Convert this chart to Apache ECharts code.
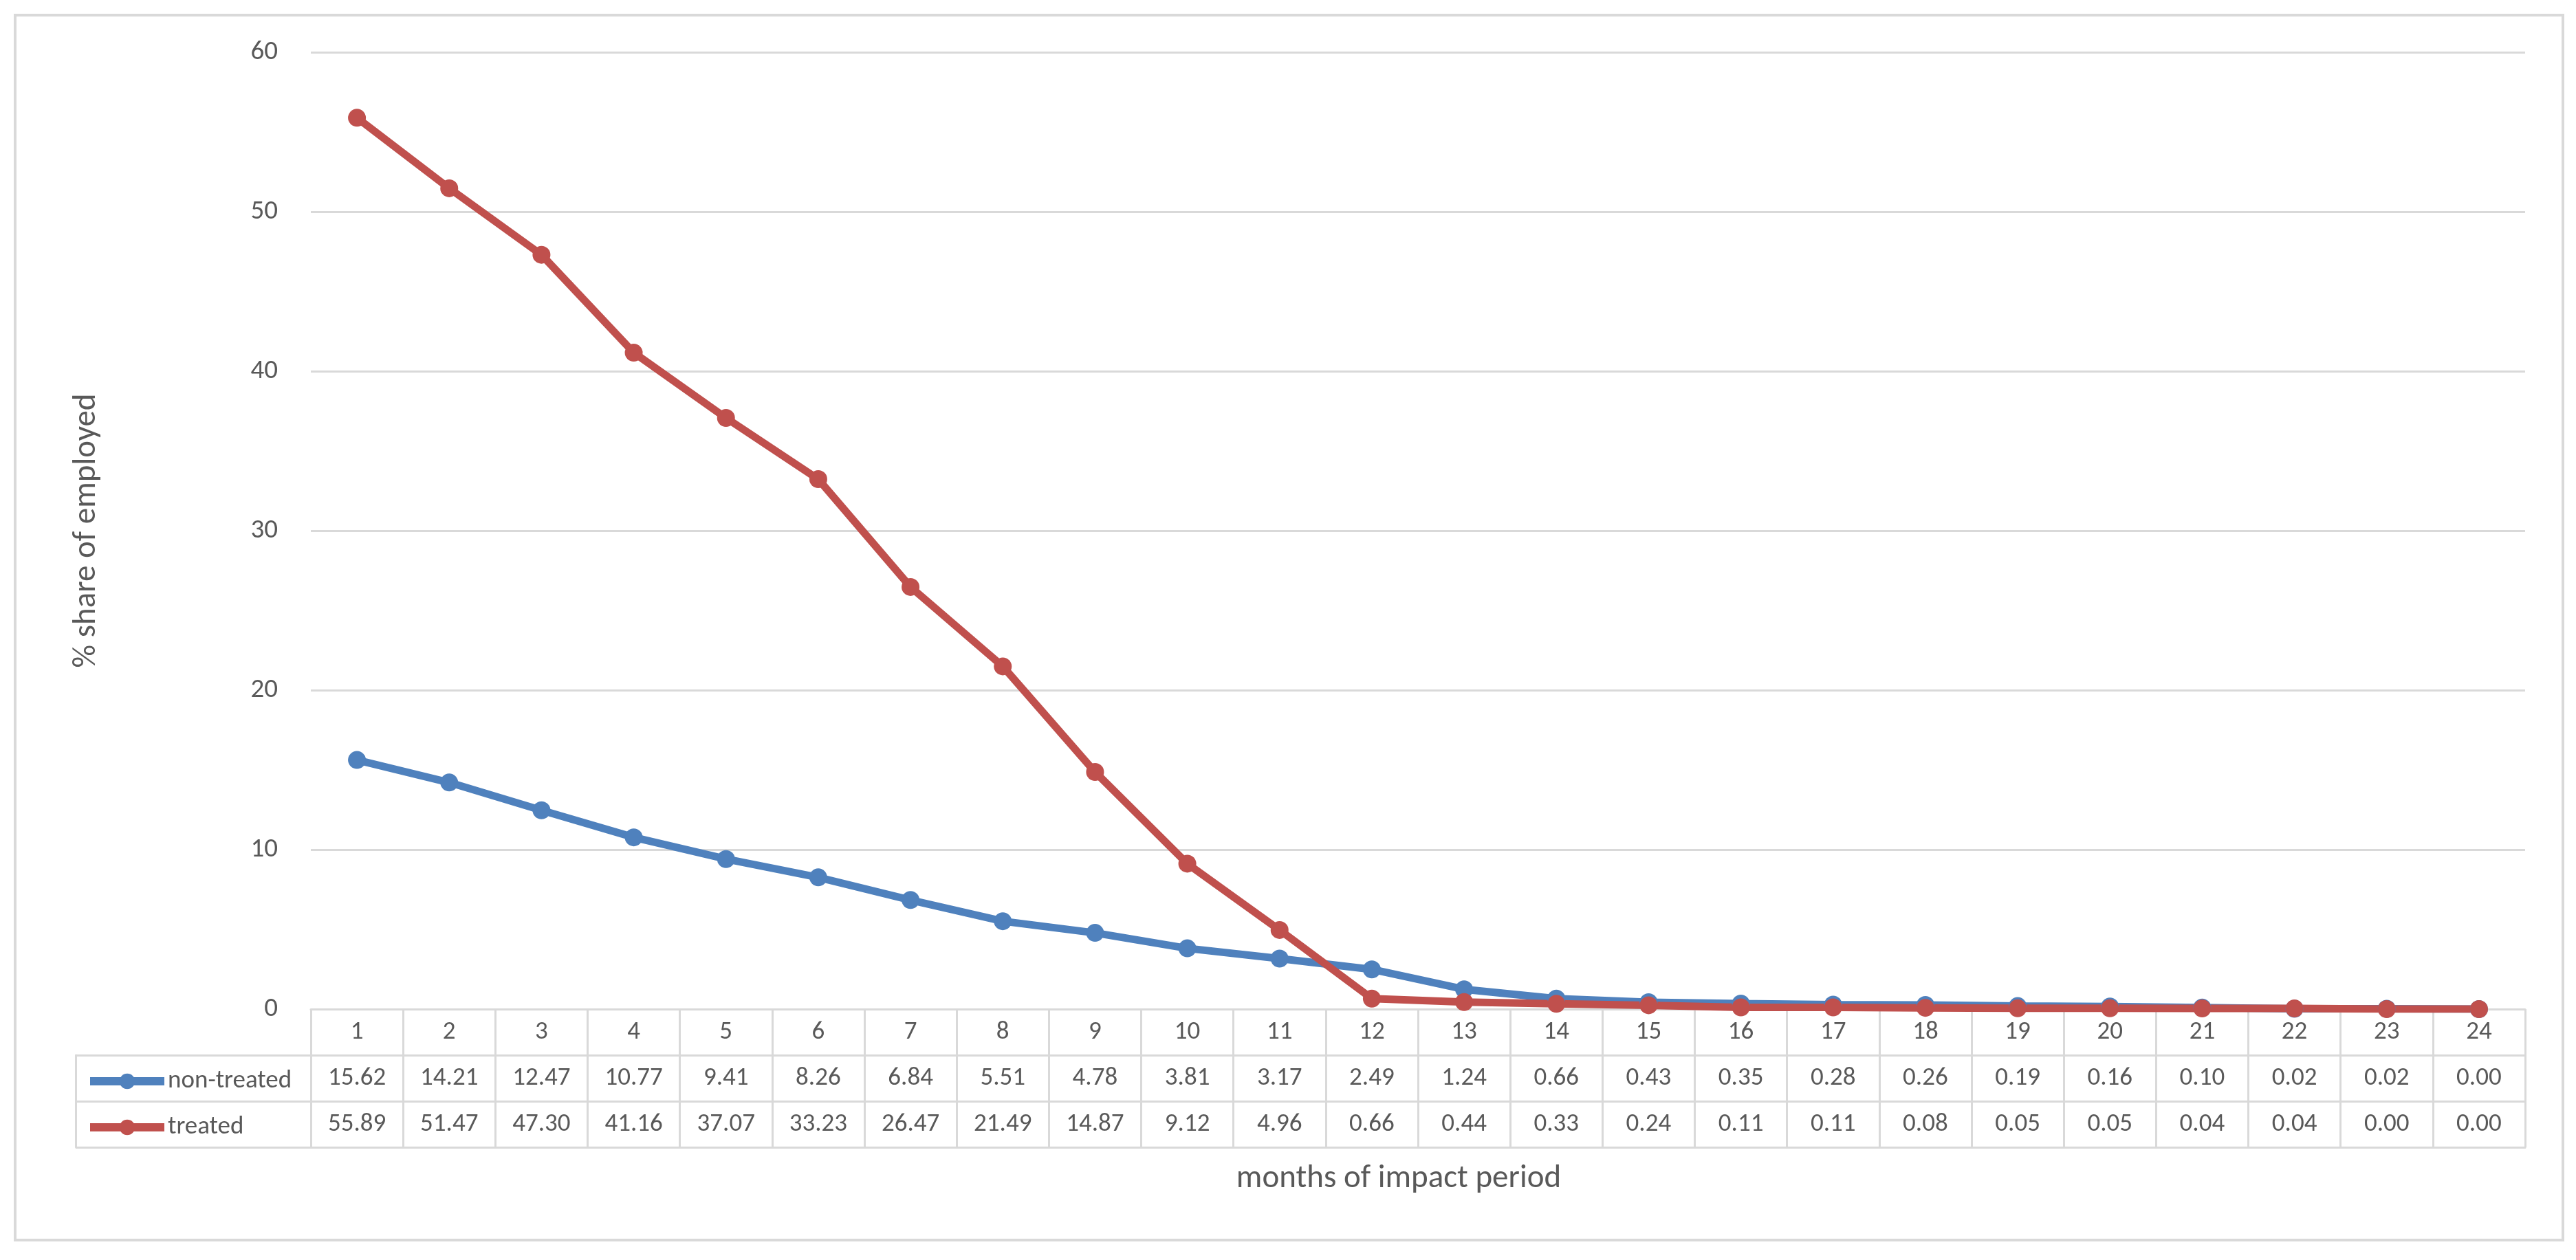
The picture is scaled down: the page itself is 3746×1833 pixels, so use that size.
<!DOCTYPE html>
<html>
<head>
<meta charset="utf-8">
<title>share of employed</title>
<script src="https://cdn.jsdelivr.net/npm/echarts@6/dist/echarts.min.js"></script>
<style>
    html, body { margin: 0; padding: 0; background: #fff; }
    #chart { width: 3746px; height: 1833px; }
</style>
</head>
<body>
<div id="chart"></div>
<script>
const months = ['1', '2', '3', '4', '5', '6', '7', '8', '9', '10', '11', '12',
    '13', '14', '15', '16', '17', '18', '19', '20', '21', '22', '23', '24'];
const nonTreated = [15.62, 14.21, 12.47, 10.77, 9.41, 8.26, 6.84, 5.51, 4.78, 3.81, 3.17, 2.49,
    1.24, 0.66, 0.43, 0.35, 0.28, 0.26, 0.19, 0.16, 0.10, 0.02, 0.02, 0.00];
const treated = [55.89, 51.47, 47.30, 41.16, 37.07, 33.23, 26.47, 21.49, 14.87, 9.12, 4.96, 0.66,
    0.44, 0.33, 0.24, 0.11, 0.11, 0.08, 0.05, 0.05, 0.04, 0.04, 0.00, 0.00];
const seriesNames = ['non-treated', 'treated'];
const yTicks = { min: 0, max: 60, interval: 10 };

const colors = ['#4F81BD', '#C0504D'];
const gray = '#d9d9d9';
const textGray = '#595959';
const font = 'Calibri, Carlito, Lato, "Open Sans", sans-serif';
const rowH = 67;

// one row of the data table = one extra category axis under the plot
function tableAxis(offset, labels, extra) {
    return {
        type: 'category',
        gridIndex: 0,
        position: 'bottom',
        offset: offset,
        data: months,
        boundaryGap: true,
        axisLine: { show: true, lineStyle: { color: gray, width: 3 } },
        axisTick: { show: true, length: rowH, inside: false, lineStyle: { color: gray, width: 3 } },
        axisLabel: {
            show: !!labels,
            interval: 0,
            margin: 34,
            verticalAlign: 'middle',
            fontSize: 37,
            fontFamily: font,
            color: textGray,
            formatter: (v, i) => labels ? labels[i] : v
        },
        splitLine: { show: false },
        ...extra
    };
}

let chartDom = document.getElementById('chart');
let myChart = echarts.init(chartDom);
let option;

option = {
    backgroundColor: '#fff',
    animation: false,
    color: colors,
    textStyle: { fontFamily: font },
    graphic: [{
        type: 'rect',
        shape: { x: 22, y: 22, width: 3705, height: 1782 },
        style: { fill: 'none', stroke: gray, lineWidth: 4 }
    }],
    legend: {
        data: seriesNames,
        orient: 'vertical',
        left: 120,
        top: 1548,
        itemWidth: 108,
        itemHeight: 28,
        itemGap: 27,
        lineStyle: { width: 12 },
        textStyle: { fontSize: 37, color: textGray, lineHeight: 40, fontFamily: font }
    },
    grid: [
        { left: 452, right: 74, top: 76, bottom: 365 },
        { left: 110, width: 342, top: 1535, height: 134 }
    ],
    xAxis: [
        tableAxis(0, months),
        tableAxis(rowH, nonTreated.map(v => v.toFixed(2))),
        tableAxis(rowH * 2, treated.map(v => v.toFixed(2))),
        tableAxis(rowH * 3, null, {
            axisTick: { show: false },
            name: 'months of impact period',
            nameLocation: 'middle',
            nameGap: 46,
            nameTextStyle: {
                fontSize: 47, color: textGray, fontFamily: font,
                verticalAlign: 'middle', padding: [0, 56, 0, 0]
            }
        }),
        { type: 'value', gridIndex: 1, show: false, min: 0, max: 1 }
    ],
    yAxis: [
        {
            type: 'value',
            gridIndex: 0,
            ...yTicks,
            axisLine: { show: false },
            axisTick: { show: false },
            axisLabel: { fontSize: 39, color: textGray, margin: 48, fontFamily: font },
            splitLine: { show: true, lineStyle: { color: gray, width: 3 } },
            name: '% share of employed',
            nameLocation: 'middle',
            nameGap: 326,
            nameRotate: 90,
            nameTextStyle: { fontSize: 47, color: textGray, fontFamily: font, verticalAlign: 'middle' }
        },
        {
            type: 'category',
            gridIndex: 1,
            data: ['treated', 'non-treated'],
            boundaryGap: true,
            axisLine: { show: true, lineStyle: { color: gray, width: 3 } },
            axisTick: { show: false },
            axisLabel: { show: false },
            splitLine: { show: true, lineStyle: { color: gray, width: 3 } }
        }
    ],
    series: [
        {
            name: seriesNames[0],
            type: 'line',
            xAxisIndex: 0,
            yAxisIndex: 0,
            data: nonTreated,
            symbol: 'circle',
            symbolSize: 26,
            lineStyle: { width: 11, color: colors[0] },
            itemStyle: { color: colors[0] }
        },
        {
            name: seriesNames[1],
            type: 'line',
            xAxisIndex: 0,
            yAxisIndex: 0,
            data: treated,
            symbol: 'circle',
            symbolSize: 26,
            lineStyle: { width: 11, color: colors[1] },
            itemStyle: { color: colors[1] }
        }
    ]
};

option && myChart.setOption(option);
</script>
</body>
</html>
